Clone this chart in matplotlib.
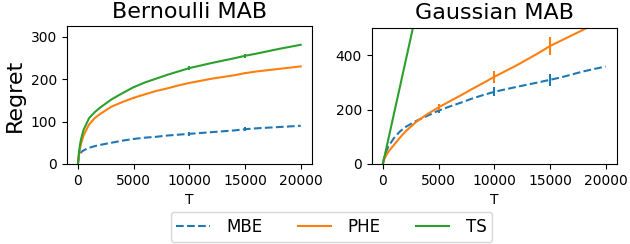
import numpy as np
import matplotlib
matplotlib.use("Agg")
import matplotlib.pyplot as plt

# horizon grid (T)
T = [0, 100, 250, 500, 1000, 1500, 2000, 3000, 4000, 5000, 6000, 7000,
     8000, 9000, 10000, 12000, 14000, 15000, 16000, 18000, 20000]
err_T = [5000, 10000, 15000]

# Bernoulli MAB regret
bern_mbe = [0, 18, 27, 32, 38, 42, 45, 50, 55, 59, 62, 64, 67, 69, 71,
            75, 79, 82, 84, 87, 90]
bern_phe = [0, 22, 45, 67, 93, 108, 118, 135, 146, 156, 164, 172, 178,
            185, 191, 201, 209, 214, 218, 224, 230]
bern_ts = [0, 30, 55, 80, 108, 122, 133, 152, 167, 181, 192, 201, 210,
           218, 226, 238, 249, 255, 260, 271, 281]
bern_err = {"MBE": [3, 4, 5], "PHE": [2, 3, 3], "TS": [3, 4, 5]}

# Gaussian MAB regret
gaus_mbe = [0, 20, 40, 65, 95, 118, 135, 158, 177, 196, 211, 225, 240,
            253, 265, 283, 300, 309, 318, 340, 358]
gaus_phe = [0, 15, 28, 45, 70, 95, 118, 155, 183, 208, 230, 252, 275,
            297, 320, 362, 408, 433, 453, 493, 535]
gaus_ts = [0, 18, 46, 92, 185, 277, 370, 555, 740, 925, 1110, 1295, 1480,
           1665, 1850, 2220, 2590, 2775, 2960, 3330, 3700]
gaus_err = {"MBE": [10, 16, 21], "PHE": [11, 22, 33], "TS": [0, 0, 0]}

styles = {"MBE": dict(color="C0", ls="--"),
          "PHE": dict(color="C1", ls="-"),
          "TS": dict(color="C2", ls="-")}


def draw(ax, series, errs, title, ylim, yticks):
    for name, y in series.items():
        ax.plot(T, y, lw=1.5, label=name, **styles[name])
        ey = [y[T.index(t)] for t in err_T]
        ax.errorbar(err_T, ey, yerr=errs[name], fmt="none",
                    ecolor=styles[name]["color"], elinewidth=1.5, capsize=0)
    ax.set_title(title, fontsize=16)
    ax.set_xlim(-1000, 21000)
    ax.set_ylim(*ylim)
    ax.set_xticks([0, 5000, 10000, 15000, 20000])
    ax.set_yticks(yticks)
    ax.tick_params(labelsize=10)
    ax.set_xlabel("T", fontsize=10)


fig = plt.figure(figsize=(6.3, 2.44), dpi=100)
ax1 = fig.add_axes([0.106, 0.328, 0.389, 0.565])
ax2 = fig.add_axes([0.590, 0.328, 0.389, 0.558])

draw(ax1, {"MBE": bern_mbe, "PHE": bern_phe, "TS": bern_ts}, bern_err,
     "Bernoulli MAB", (0, 325), [0, 100, 200, 300])
draw(ax2, {"MBE": gaus_mbe, "PHE": gaus_phe, "TS": gaus_ts}, gaus_err,
     "Gaussian MAB", (0, 500), [0, 200, 400])
ax1.set_ylabel("Regret", fontsize=16)

handles, labels = ax1.get_legend_handles_labels()
fig.legend(handles, labels, loc="center", bbox_to_anchor=(0.526, 0.07),
           ncol=3, fontsize=12, handlelength=2, handletextpad=1.0,
           columnspacing=2.1, borderpad=0.35)

fig.savefig("out.png", dpi=100)
